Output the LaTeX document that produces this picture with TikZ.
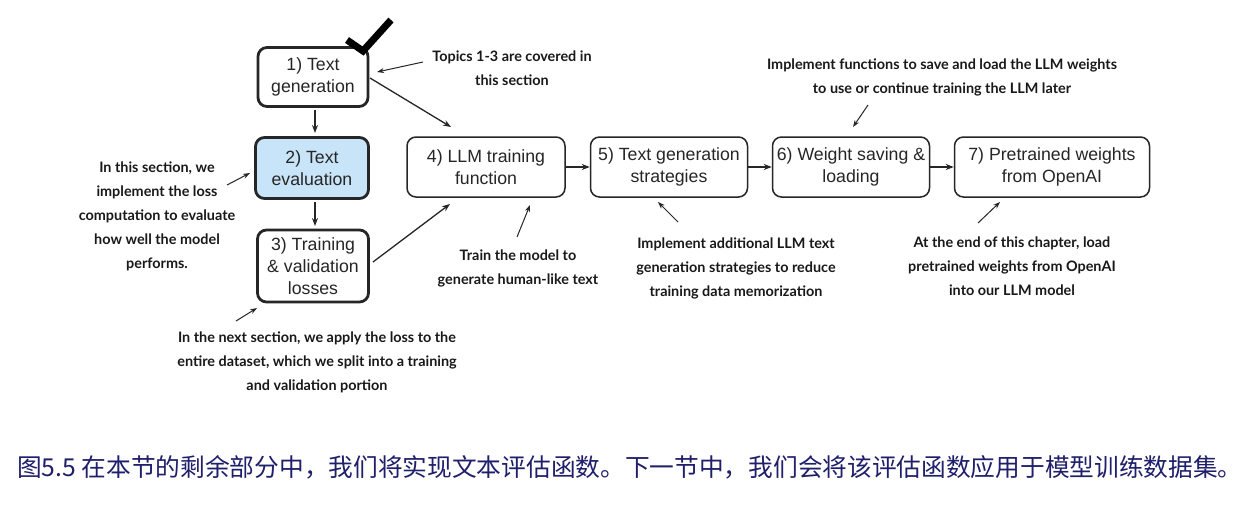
\documentclass[tikz,border=0pt]{standalone}
\usepackage{fontspec}
\setmainfont{Liberation Sans}
\newfontfamily\notefont{Lato}[BoldFont={Lato Bold}]
\newfontfamily\cjk{Noto Sans CJK SC}
\usetikzlibrary{arrows.meta}
\definecolor{evalfill}{HTML}{C8E4F8}
\definecolor{capcol}{HTML}{1F1F6B}
\tikzset{
  boxbase/.style={draw=black!85, rounded corners=9pt, align=center, inner sep=0pt,
    font=\fontsize{17.7}{22}\selectfont, text=black!85},
  thickbox/.style={boxbase, line width=2.8pt},
  thinbox/.style={boxbase, line width=1.5pt},
  note/.style={align=center, font=\notefont\bfseries\fontsize{14.4}{24}\selectfont, text=black!90},
  notearrow/.style={-{Stealth[length=7pt,width=5pt]}, line width=1pt, black!85},
  flow/.style={-{Stealth[length=8pt,width=6pt]}, line width=1.8pt, black!85},
  longarrow/.style={-{Stealth[length=8pt,width=6pt]}, line width=1.3pt, black!85},
}
\begin{document}
\begin{tikzpicture}[x=1pt,y=-1pt]
\useasboundingbox (0,0) rectangle (1251,506);
\fill[white] (0,0) rectangle (1251,506);

% boxes
\node[thickbox, minimum width=110pt, minimum height=59pt] (b1) at (313,77) {1) Text\\generation};
\node[thickbox, fill=evalfill, minimum width=113pt, minimum height=61pt] (b2) at (312,168) {2) Text\\evaluation};
\node[thickbox, minimum width=111pt, minimum height=72pt] (b3) at (313,266) {3) Training\\\& validation\\losses};
\node[thinbox, minimum width=158pt, minimum height=60pt] (b4) at (486,167) {4) LLM training\\function};
\node[thinbox, minimum width=157pt, minimum height=60pt] (b5) at (669,167) {5) Text generation\\strategies};
\node[thinbox, minimum width=157pt, minimum height=60pt] (b6) at (851,167) {6) Weight saving \&\\loading};
\node[thinbox, minimum width=195pt, minimum height=60pt] (b7) at (1052,167) {7) Pretrained weights\\from OpenAI};

% check mark
\draw[line width=7pt, black, line join=miter, line cap=butt] (347,40) -- (363,51) -- (391,20);

% flow arrows
\coordinate (f1s) at (315,110); \coordinate (f1e) at (315,133);
\draw[flow] (f1s) -- (f1e);
\coordinate (f2s) at (315,202); \coordinate (f2e) at (315,226);
\draw[flow] (f2s) -- (f2e);
\draw[flow] (b4.east) -- (b5.west);
\draw[flow] (b5.east) -- (b6.west);
\draw[flow] (b6.east) -- (b7.west);
\coordinate (c1a) at (370,78);
\coordinate (c1b) at (451,127);
\draw[longarrow] (c1a) -- (c1b);
\coordinate (c3a) at (373,262);
\coordinate (c3b) at (450,204);
\draw[longarrow] (c3a) -- (c3b);

% notes
\node[note] (n1) at (512,68) {Topics 1-3 are covered in\\this section};
\node[note] (n2) at (157,216) {In this section, we\\implement the loss\\computation to evaluate\\how well the model\\performs.};
\node[note] (n3) at (317,362) {In the next section, we apply the loss to the\\entire dataset, which we split into a training\\and validation portion};
\node[note] (n4) at (518,268) {Train the model to\\generate human-like text};
\node[note] (n5) at (736,268) {Implement additional LLM text\\generation strategies to reduce\\training data memorization};
\node[note] (n6) at (942,77) {Implement functions to save and load the LLM weights\\to use or continue training the LLM later};
\node[note] (n7) at (1012,266) {At the end of this chapter, load\\pretrained weights from OpenAI\\into our LLM model};

% note arrows
\coordinate (a1s) at (423,62); \coordinate (a1e) at (377,72);
\draw[notearrow] (a1s) -- (a1e);
\coordinate (a2s) at (227,185); \coordinate (a2e) at (250,173);
\draw[notearrow] (a2s) -- (a2e);
\coordinate (a3s) at (236,321); \coordinate (a3e) at (257,308);
\draw[notearrow] (a3s) -- (a3e);
\coordinate (a4s) at (517,237); \coordinate (a4e) at (530,205);
\draw[notearrow] (a4s) -- (a4e);
\coordinate (a5s) at (678,222); \coordinate (a5e) at (658,202);
\draw[notearrow] (a5s) -- (a5e);
\coordinate (a6s) at (868,105); \coordinate (a6e) at (853,127);
\draw[notearrow] (a6s) -- (a6e);
\coordinate (a7s) at (978,223); \coordinate (a7e) at (1000,202);
\draw[notearrow] (a7s) -- (a7e);

% caption
\node[anchor=west, inner sep=0pt, text=capcol, font=\cjk\fontsize{24.7}{30}\selectfont] (cap) at (17,467)
  {图5.5 在本节的剩余部分中，我们将实现文本评估函数。下一节中，我们会将该评估函数应用于模型训练数据集。};
\end{tikzpicture}
\end{document}
